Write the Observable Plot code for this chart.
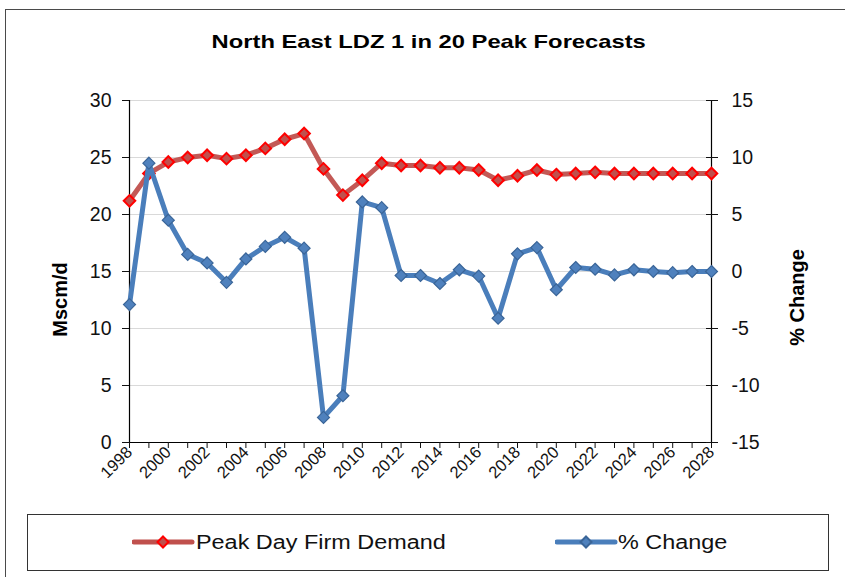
<!DOCTYPE html>
<html>
<head>
<meta charset="utf-8">
<script src="https://cdn.jsdelivr.net/npm/d3@7"></script>
<script src="https://cdn.jsdelivr.net/npm/@observablehq/plot@0.6"></script>
<style>
  html, body { margin: 0; padding: 0; background: #fff; }
  #wrap { position: relative; width: 845px; height: 577px; overflow: hidden; font-family: "Liberation Sans", Arial, sans-serif; }
  #frame { position: absolute; left: 5px; top: 9px; width: 900px; height: 700px; border: 1.5px solid #4a4a4a; box-sizing: border-box; }
  #title { position: absolute; left: 0; top: 30px; width: 858px; text-align: center; font-weight: bold; font-size: 19px; line-height: 24px; color: #000; }
  #title span { display: inline-block; transform: scaleX(1.25); transform-origin: center; }
  #chart { position: absolute; left: 0; top: 0; }
  #legend { position: absolute; left: 27px; top: 514px; width: 802px; height: 57px; border: 1.5px solid #333; box-sizing: border-box; }
  .item { position: absolute; top: 0; left: 0; height: 54px; }
  .item svg { position: absolute; top: 0; }
  .item span { position: absolute; top: 15px; white-space: nowrap; font-size: 19.5px; line-height: 24px; color: #111; display: inline-block; transform: scaleX(1.2); transform-origin: left center; }
</style>
</head>
<body>
<div id="wrap">
  <div id="frame"></div>
  <div id="title"><span>North East LDZ 1 in 20 Peak Forecasts</span></div>
  <div id="chart"></div>
  <div id="legend"></div>
</div>
<script>
const years = [1998, 1999, 2000, 2001, 2002, 2003, 2004, 2005, 2006, 2007, 2008, 2009, 2010, 2011, 2012, 2013, 2014, 2015, 2016, 2017, 2018, 2019, 2020, 2021, 2022, 2023, 2024, 2025, 2026, 2027, 2028];
const peakDemand = [21.2, 23.6, 24.6, 25.0, 25.2, 24.9, 25.2, 25.8, 26.6, 27.1, 24.0, 21.7, 23.0, 24.5, 24.3, 24.3, 24.1, 24.1, 23.9, 23.0, 23.4, 23.9, 23.5, 23.6, 23.7, 23.6, 23.6, 23.6, 23.6, 23.6, 23.6];
const pctChange = [-2.9, 9.5, 4.5, 1.5, 0.75, -0.95, 1.1, 2.2, 3.0, 2.05, -12.8, -10.9, 6.1, 5.6, -0.35, -0.35, -1.05, 0.15, -0.4, -4.1, 1.55, 2.1, -1.6, 0.35, 0.2, -0.3, 0.15, 0.0, -0.1, 0.0, 0.0];
const xTickLabels = ["1998", "2000", "2002", "2004", "2006", "2008", "2010", "2012", "2014", "2016", "2018", "2020", "2022", "2024", "2026", "2028"];
const leftTicks = [0, 5, 10, 15, 20, 25, 30];
const rightTicks = [-15, -10, -5, 0, 5, 10, 15];
const seriesNames = ["Peak Day Firm Demand", "% Change"];
const title = "North East LDZ 1 in 20 Peak Forecasts";
const leftLabel = "Mscm/d";
const rightLabel = "% Change";

const redLine = "#c0504d", redEdge = "#ff0000";
const blueLine = "#4a7ebb", blueFill = "#4f81bd", blueEdge = "#3a6598";

const data = years.map((y, i) => ({year: y, demand: peakDemand[i], change: pctChange[i]}));
// right axis (-15..15) shares the left y scale (0..30) via offset
const rightOffset = 15;
const xTickYears = xTickLabels.map(Number);
const rightTickPos = rightTicks.map(d => d + rightOffset);

const chart = Plot.plot({
  width: 845,
  height: 500,
  marginTop: 100,
  marginBottom: 58,
  marginLeft: 129,
  marginRight: 134,
  style: {fontFamily: "'Liberation Sans', Arial, sans-serif", fontSize: "19.5px", color: "#111", background: "transparent", overflow: "visible"},
  x: {type: "linear", domain: [years[0], years[years.length - 1]], axis: null},
  y: {domain: [0, 30], axis: null},
  marks: [
    Plot.gridY(leftTicks.slice(1), {stroke: "#d9d9d9", strokeOpacity: 1, strokeWidth: 1.2}),
    Plot.ruleX([years[0]], {stroke: "#000", strokeWidth: 1.2}),
    Plot.ruleX([years[years.length - 1]], {stroke: "#000", strokeWidth: 1.2}),
    Plot.ruleY([0], {stroke: "#000", strokeWidth: 1.2}),
    Plot.axisY({anchor: "left", ticks: leftTicks, tickSize: 7, tickPadding: 11, label: null, ariaLabel: "yleft", tickFormat: d => String(d)}),
    Plot.axisY({anchor: "right", ticks: rightTickPos, tickSize: 6, tickPadding: 14, label: null, ariaLabel: "yright", tickFormat: d => String(d - rightOffset)}),
    Plot.axisY({anchor: "right", ticks: rightTickPos, tickSize: 6, dx: -6, label: null, ariaLabel: "yright-inner", tickFormat: () => ""}),
    Plot.axisX({ticks: years, tickSize: 6, tickFormat: () => "", label: null, ariaLabel: "xticks"}),
    Plot.axisX({ticks: xTickYears, tickSize: 0, tickPadding: 7, tickRotate: -45, fontSize: 16.5, label: null, ariaLabel: "xlab", tickFormat: d => String(d)}),
    Plot.line(data, {x: "year", y: "demand", stroke: redLine, strokeWidth: 5, strokeOpacity: 0.95}),
    Plot.dot(data, {x: "year", y: "demand", symbol: "diamond2", r: 5.2, fill: redLine, stroke: redEdge, strokeWidth: 2}),
    Plot.line(data, {x: "year", y: d => d.change + rightOffset, stroke: blueLine, strokeWidth: 5}),
    Plot.dot(data, {x: "year", y: d => d.change + rightOffset, symbol: "diamond2", r: 5.4, fill: blueFill, stroke: blueEdge, strokeWidth: 1.2}),
    Plot.text([leftLabel], {frameAnchor: "left", dx: -69, dy: 28, rotate: -90, fontWeight: "bold", fontSize: 20, fill: "#000", textAnchor: "middle"}),
    Plot.text([rightLabel], {frameAnchor: "right", dx: 86, dy: 26, rotate: -90, fontWeight: "bold", fontSize: 20, fill: "#000", textAnchor: "middle"})
  ]
});
document.getElementById("chart").appendChild(chart);

// widen tick labels to match the reference's wide lettering
function stretchText(label, factor) {
  chart.querySelectorAll(`g[aria-label="${label}"] text`).forEach(t => {
    const L = t.getComputedTextLength();
    if (L > 0) {
      t.setAttribute("textLength", (L * factor).toFixed(1));
      t.setAttribute("lengthAdjust", "spacingAndGlyphs");
    }
  });
}
stretchText("yleft", 1.22);
stretchText("yright", 1.22);
stretchText("xlab", 1.08);

// legend
const legend = document.getElementById("legend");
const legendItems = [
  {name: seriesNames[0], line: redLine, fill: redLine, edge: redEdge, left: 104, textLeft: 168},
  {name: seriesNames[1], line: blueLine, fill: blueFill, edge: blueEdge, left: 527, textLeft: 590}
];
legendItems.forEach(it => {
  const div = document.createElement("div");
  div.className = "item";
  div.innerHTML = `<svg width="70" height="54" style="left:${it.left}px">
      <line x1="2" x2="60" y1="27" y2="27" stroke="${it.line}" stroke-width="5" stroke-linecap="round"/>
      <path d="M31,21.5 L36.5,27 L31,32.5 L25.5,27 Z" fill="${it.fill}" stroke="${it.edge}" stroke-width="2"/>
    </svg><span style="left:${it.textLeft}px">${it.name}</span>`;
  legend.appendChild(div);
});
</script>
</body>
</html>
